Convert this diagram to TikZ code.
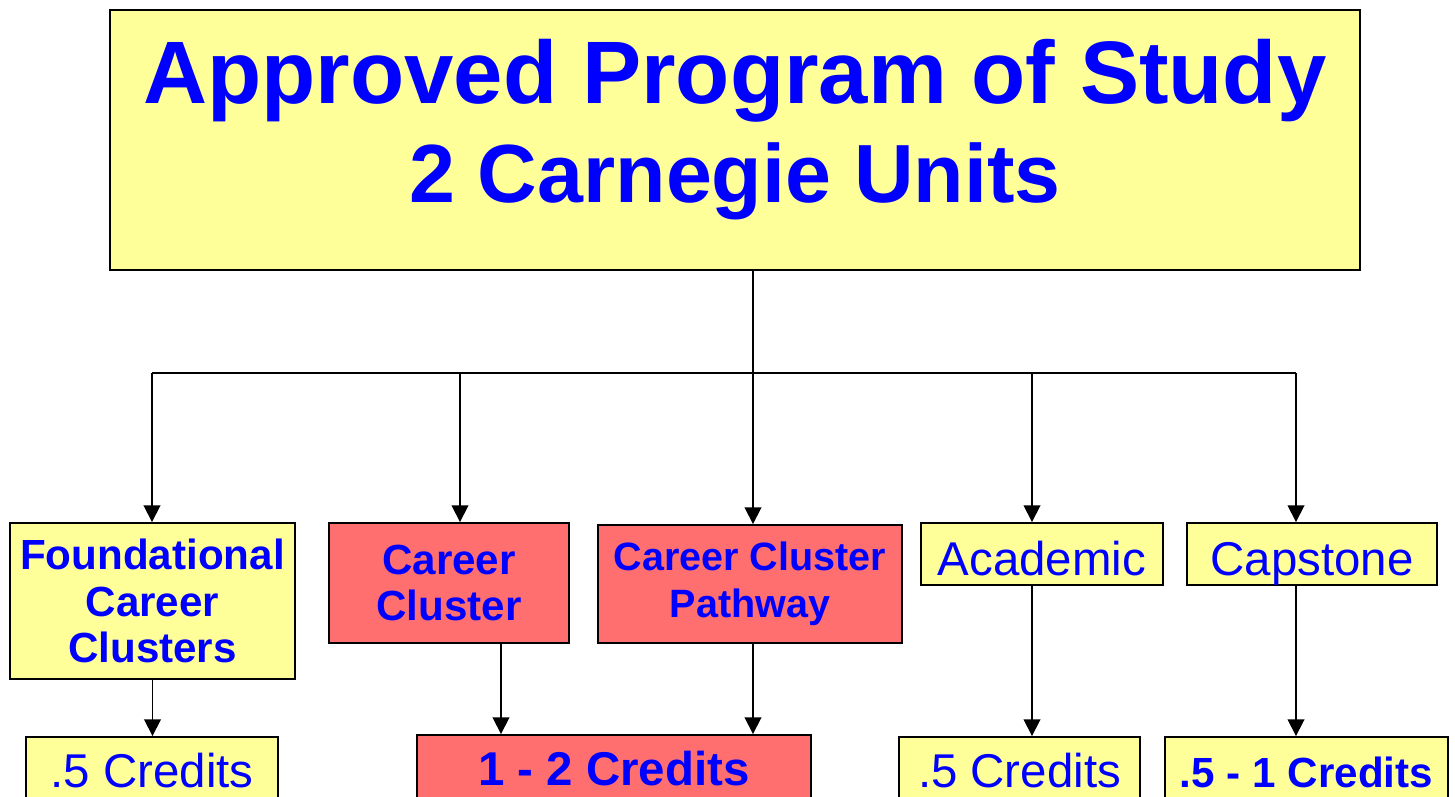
\documentclass[tikz,border=0pt]{standalone}
\usepackage{fontspec}
\setmainfont{Liberation Sans}
\usetikzlibrary{arrows.meta}

\definecolor{boxyellow}{RGB}{255,255,153}
\definecolor{boxred}{RGB}{255,111,111}

\begin{document}
\begin{tikzpicture}[x=0.02cm,y=-0.02cm,>={Triangle[length=9.5pt,width=9.5pt]},line width=1pt,
  yellow node/.style={rectangle,draw,line width=1.1pt,fill=boxyellow,text=blue,align=center,inner sep=0pt},
  red node/.style={yellow node,fill=boxred},
  bold text/.style={font=\fontsize{24}{26.5}\selectfont\bfseries},
  plain text/.style={font=\fontsize{27}{30}\selectfont,text height=20pt,text depth=0pt}]

 \useasboundingbox (0,0) rectangle (1455,796);

 \node[yellow node,minimum width=25cm,minimum height=5.2cm,text depth=22pt,
   font=\fontsize{50.5}{56}\selectfont\bfseries] (program) at (735,140)
   {Approved Program of Study\\{\fontsize{47}{56}\selectfont 2 Carnegie Units}};

 \node[yellow node,bold text,minimum width=5.7cm,minimum height=3.12cm] (foundational) at (152.5,601) {Foundational\\Career\\Clusters};
 \node[red node,bold text,minimum width=4.8cm,minimum height=2.4cm] (cluster) at (449,583) {Career\\Cluster};
 \node[red node,bold text,font=\fontsize{22.5}{26.5}\selectfont\bfseries,minimum width=6.08cm,minimum height=2.36cm] (pathway) at (750,584) {Career Cluster\\Pathway};
 \node[yellow node,plain text,text height=30pt,text depth=5pt,minimum width=4.84cm,minimum height=1.24cm] (academic) at (1042,554) {Academic};
 \node[yellow node,plain text,text height=30pt,text depth=5pt,minimum width=5cm,minimum height=1.24cm] (capstone) at (1312,554) {Capstone};

 \node[yellow node,plain text,minimum width=5.04cm,minimum height=1.3cm] (fcredits) at (152,769.5) {.5 Credits};
 \node[red node,plain text,font=\fontsize{27}{30}\selectfont\bfseries,minimum width=7.88cm,minimum height=1.3cm] (ccredits) at (614,767.5) {1 - 2 Credits};
 \node[yellow node,plain text,minimum width=4.82cm,minimum height=1.3cm] (acredits) at (1019.5,769.5) {.5 Credits};
 \node[yellow node,plain text,font=\fontsize{24}{28}\selectfont\bfseries,minimum width=5.66cm,minimum height=1.3cm] (kcredits) at (1306.5,769.5) {.5 - 1 Credits};

 \coordinate (b1) at (152,373);
 \coordinate (b2) at (460,373);
 \coordinate (b3) at (753,373);
 \coordinate (b4) at (1032,373);
 \coordinate (b5) at (1296,373);
 \coordinate (k2) at (501,643);

 \draw (program.south -| b3) -- (b3);
 \draw (b1) -- (b5);

 \path[->]
    (b1)	edge (b1 |- foundational.north)
    (b2)	edge (b2 |- cluster.north)
    (b3)	edge (b3 |- pathway.north)
    (b4)	edge (b4 |- academic.north)
    (b5)	edge (b5 |- capstone.north)
    (foundational.south)	edge (foundational.south |- fcredits.north)
    (cluster.south -| k2)	edge (ccredits.north -| k2)
    (pathway.south -| b3)	edge (ccredits.north -| b3)
    (academic.south -| b4)	edge (acredits.north -| b4)
    (capstone.south -| b5)	edge (kcredits.north -| b5);

\end{tikzpicture}
\end{document}
